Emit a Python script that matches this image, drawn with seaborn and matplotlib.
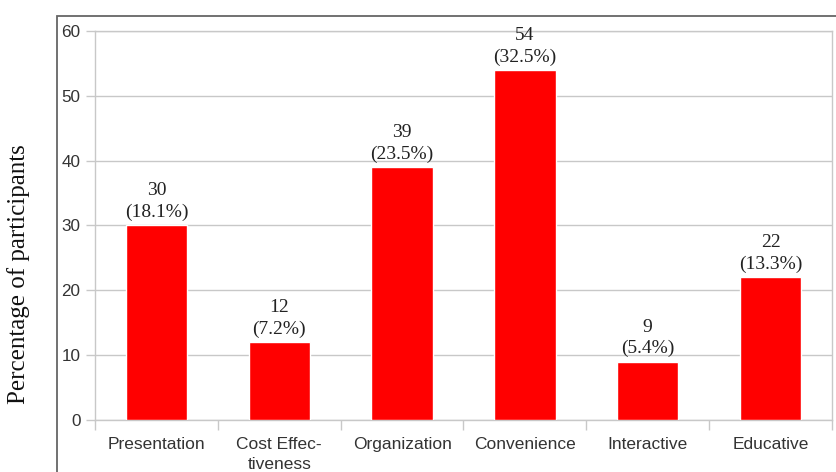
import matplotlib
matplotlib.use("Agg")
import matplotlib.pyplot as plt
import seaborn as sns
import pandas as pd
from matplotlib.patches import Rectangle

categories = ["Presentation", "Cost Effec-\ntiveness", "Organization", "Convenience", "Interactive", "Educative"]
counts = [30, 12, 39, 54, 9, 22]
percents = ["18.1%", "7.2%", "23.5%", "32.5%", "5.4%", "13.3%"]
yticks = [0, 10, 20, 30, 40, 50, 60]

df = pd.DataFrame({"category": categories, "count": counts})

sns.set_style("white")
plt.rcParams['font.family'] = ['Liberation Sans', 'DejaVu Sans']

fig = plt.figure(figsize=(8.37, 4.72), dpi=100)
ax = fig.add_axes([95/837, 52/472, (832-95)/837, (420-31)/472])

sns.barplot(data=df, x="category", y="count", color="#ff0000", width=0.5,
            saturation=1, ax=ax, zorder=3)

ax.set_ylim(0, 60)
ax.set_xlim(-0.5, len(categories) - 0.5)
ax.set_yticks(yticks)
ax.set_yticklabels([str(t) for t in yticks], fontsize=12.3, color="#333333")
ax.tick_params(axis="y", length=6.5, width=1, color="#c8c8c8", pad=4, direction="out", left=True)
ax.set_xticks(range(len(categories)))
ax.set_xticklabels(categories, fontsize=12.5, color="#333333", linespacing=1.45)
ax.tick_params(axis="x", which="major", length=0, pad=12)
ax.set_xticks([i + 0.5 for i in range(-1, len(categories))], minor=True)
ax.tick_params(axis="x", which="minor", length=7, width=1, color="#c8c8c8", direction="out", bottom=True)

ax.yaxis.grid(True, color="#c8c8c8", linewidth=1, zorder=0)
ax.set_axisbelow(True)
for s in ax.spines.values():
    s.set_visible(True)
    s.set_color("#c8c8c8")
    s.set_linewidth(1)

ax.set_xlabel("")
ax.set_ylabel("")
fig.text(19/837, 1 - 274/472, "Percentage of participants", rotation=90,
         ha="center", va="center", family=["Liberation Serif", "DejaVu Serif"],
         fontsize=18, color="#111111")

for i, (c, p) in enumerate(zip(counts, percents)):
    ax.annotate(f"{c}\n({p})", xy=(i, c), xytext=(0, 3), textcoords="offset points",
                ha="center", va="bottom", fontsize=14, color="#222222",
                family=["Liberation Serif", "DejaVu Serif"], linespacing=1.35)

box = Rectangle((57/837, -0.1), 1.0, (472-16)/472 + 0.1, transform=fig.transFigure,
                fill=False, edgecolor="#666666", linewidth=1.3, clip_on=False)
fig.patches.append(box)

fig.savefig("out.png", dpi=100)
